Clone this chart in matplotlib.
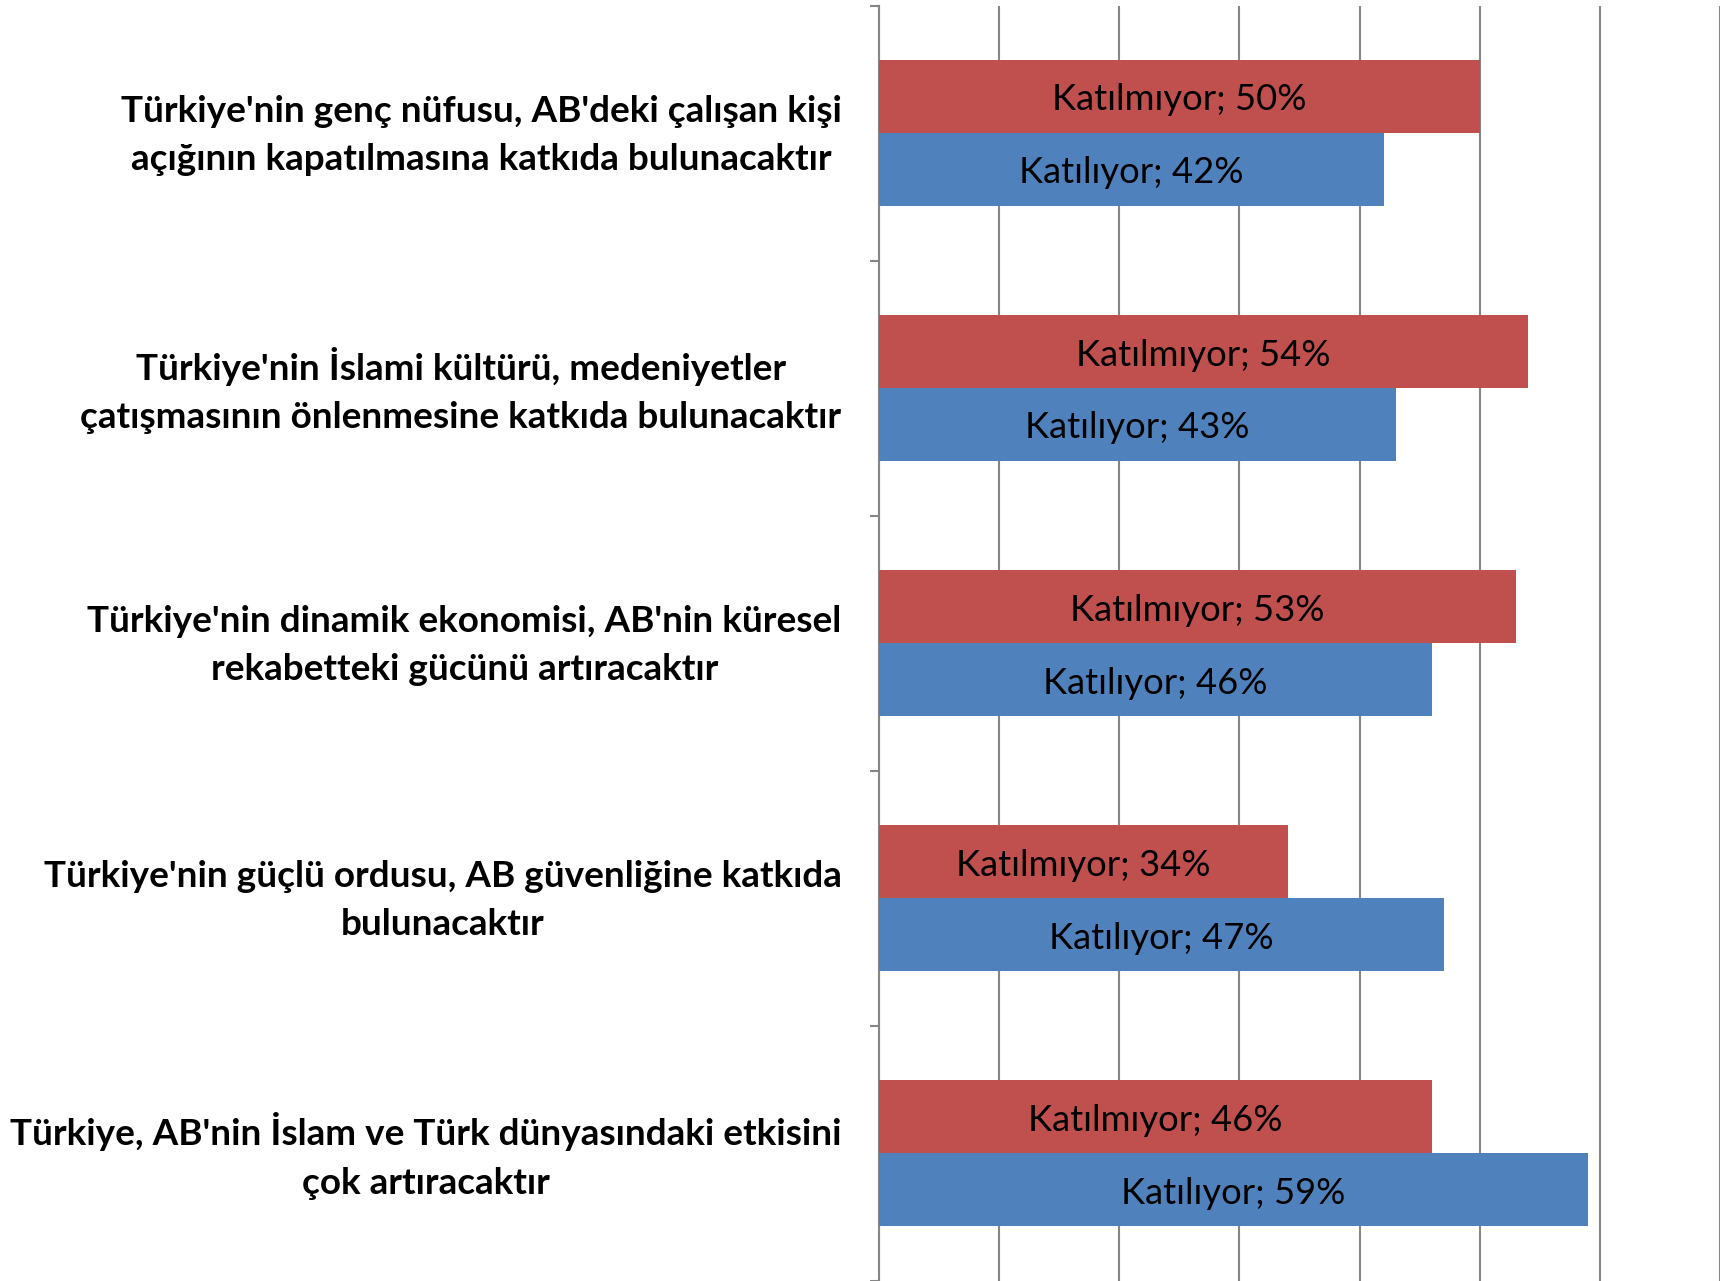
import matplotlib.pyplot as plt
import matplotlib.transforms as mtransforms
import numpy as np

# Data
categories = [
    "Türkiye'nin genç nüfusu, AB'deki çalışan kişi\naçığının kapatılmasına katkıda bulunacaktır",
    "Türkiye'nin İslami kültürü, medeniyetler\nçatışmasının önlenmesine katkıda bulunacaktır",
    "Türkiye'nin dinamik ekonomisi, AB'nin küresel\nrekabetteki gücünü artıracaktır",
    "Türkiye'nin güçlü ordusu, AB güvenliğine katkıda\nbulunacaktır",
    "Türkiye, AB'nin İslam ve Türk dünyasındaki etkisini\nçok artıracaktır",
]
katilmiyor = [50, 54, 53, 34, 46]
katiliyor = [42, 43, 46, 47, 59]

plt.rcParams['font.family'] = ['Lato', 'DejaVu Sans']

fig = plt.figure(figsize=(17.29, 12.81), dpi=100)
ax = fig.add_axes([0.5084, 0.0, 0.4864, 0.9957])

y = np.arange(len(categories))
h = 0.286
red = '#C0504D'
blue = '#4F81BD'

b1 = ax.barh(y - h / 2, katilmiyor, height=h, color=red, zorder=3)
b2 = ax.barh(y + h / 2, katiliyor, height=h, color=blue, zorder=3)

t1 = ax.bar_label(b1, labels=[f"Katılmıyor; {v}%" for v in katilmiyor],
                  label_type='center', fontsize=26.2, color='black')
t2 = ax.bar_label(b2, labels=[f"Katılıyor; {v}%" for v in katiliyor],
                  label_type='center', fontsize=26.2, color='black')

# small nudge down for the value labels
for t in list(t1) + list(t2):
    t.xyann = (0, -2.4)

ax.set_xlim(0, 70)
ax.set_ylim(len(categories) - 0.5, -0.5)
ax.set_xticks(np.arange(0, 71, 10))
ax.tick_params(axis='x', length=0, labelbottom=False)
ax.grid(axis='x', color='#868686', linewidth=1.5, zorder=0)

ax.set_yticks(y)
ax.set_yticklabels(categories, fontsize=26.6, fontweight='bold',
                   multialignment='center', linespacing=1.56)
ax.set_yticks(np.arange(-0.5, len(categories)), minor=True)
ax.tick_params(axis='y', which='major', length=0, pad=27)
ax.tick_params(axis='y', which='minor', length=6.5, width=1.5, color='#868686', direction='out')

# category labels sit a little above the group centre
up = mtransforms.ScaledTranslation(0, 5.8 / 72, fig.dpi_scale_trans)
for lbl in ax.get_yticklabels():
    lbl.set_transform(lbl.get_transform() + up)

for s in ['top', 'right', 'bottom']:
    ax.spines[s].set_visible(False)
ax.spines['left'].set_color('#868686')
ax.spines['left'].set_linewidth(1.5)

fig.savefig('out.png', dpi=100)
